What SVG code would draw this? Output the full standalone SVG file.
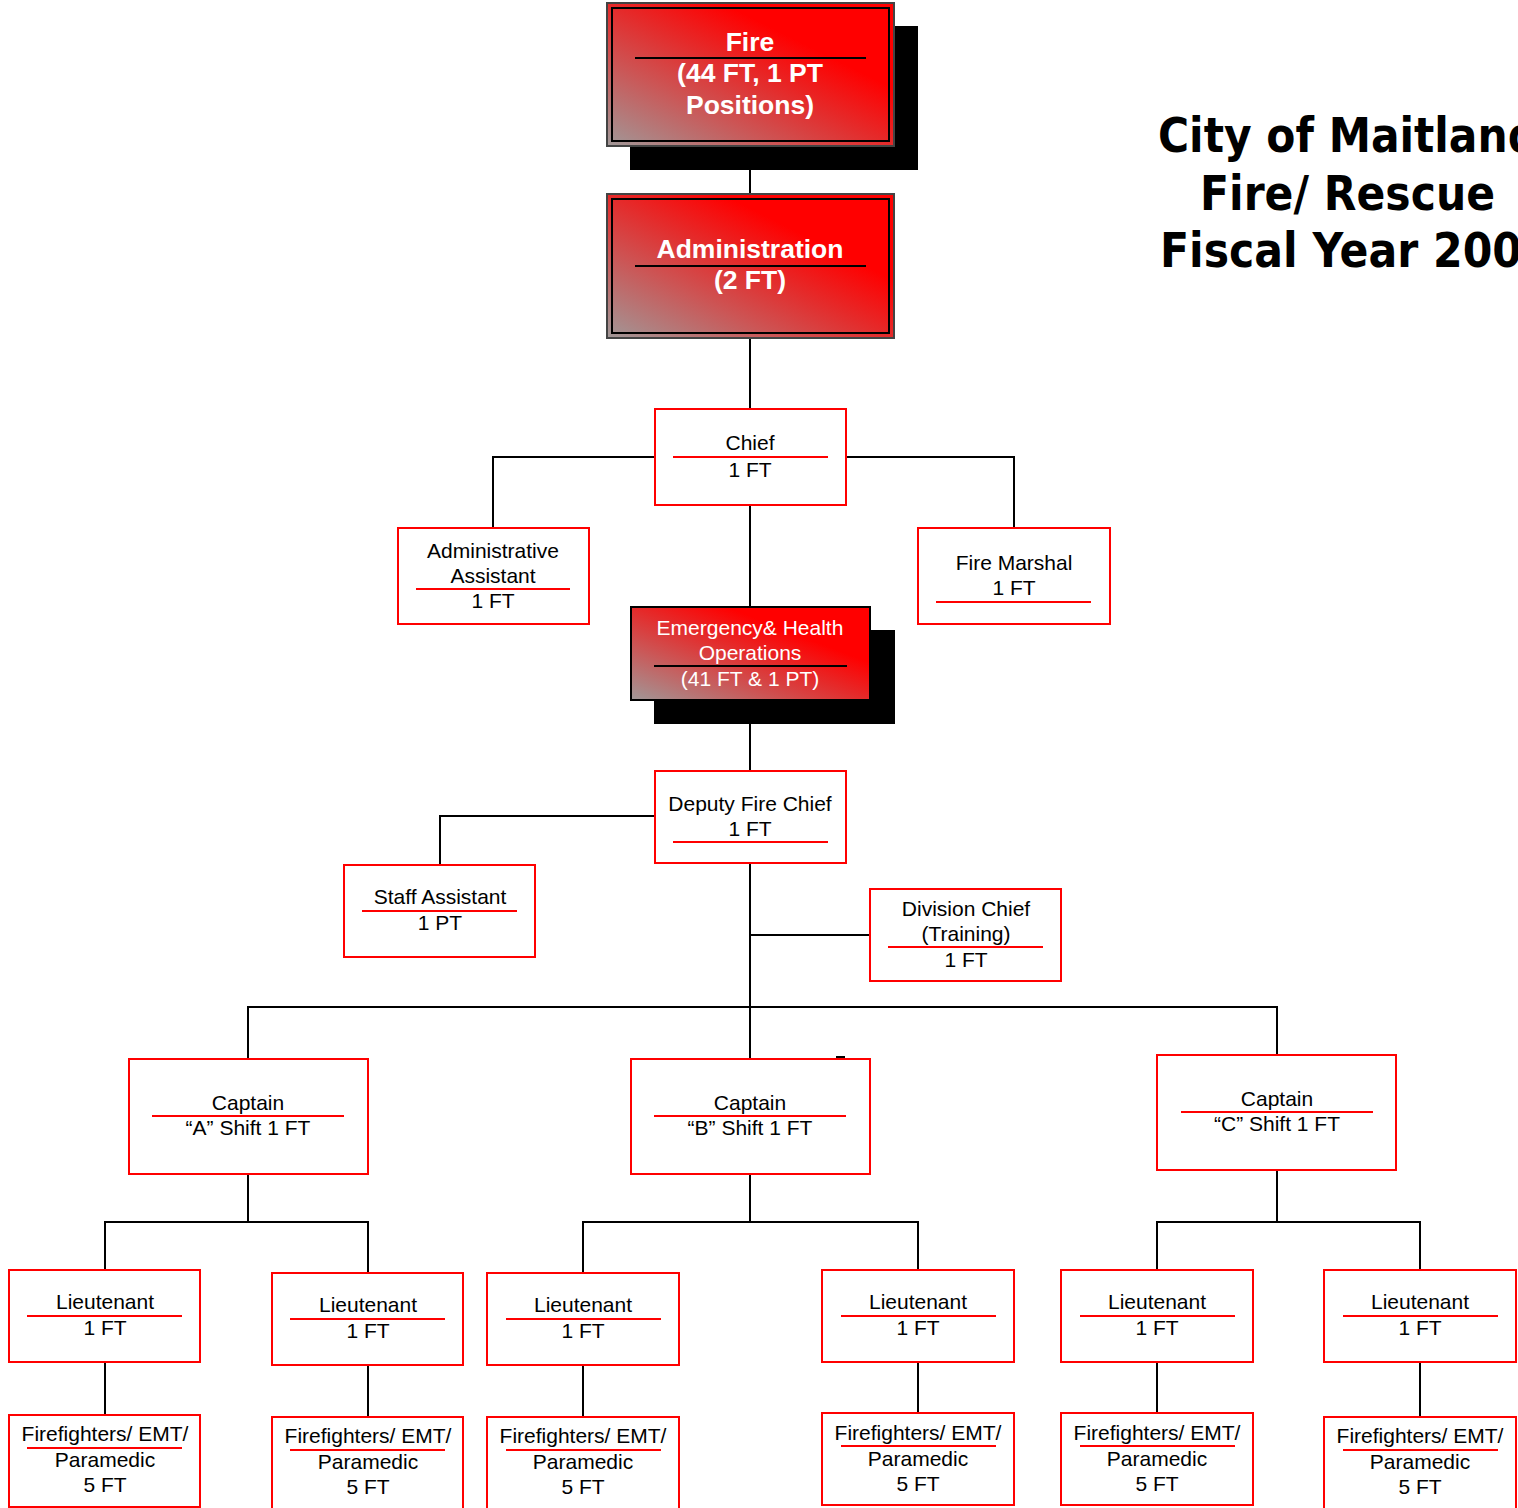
<svg xmlns="http://www.w3.org/2000/svg" width="1518" height="1508" viewBox="0 0 1518 1508">
<defs>
<linearGradient id="rg" x1="0" y1="1" x2="1" y2="0">
<stop offset="0" stop-color="#a09898"/>
<stop offset="0.3" stop-color="#cc5555"/>
<stop offset="0.5" stop-color="#e52a2a"/>
<stop offset="0.7" stop-color="#ff0000"/>
<stop offset="1" stop-color="#ff0000"/>
</linearGradient>
</defs>
<style>
.box{fill:#fff;stroke:#f00;stroke-width:2}
.rl{stroke:#f00;stroke-width:2}
.bl{stroke:#000;stroke-width:2}
.t{font-family:"Liberation Sans",Arial,sans-serif;font-size:21px;fill:#000;text-anchor:middle}
.w{fill:#fff}
.wb{font-family:"Liberation Sans",Arial,sans-serif;font-size:26.5px;font-weight:bold;fill:#fff;text-anchor:middle}
.c{fill:none;stroke:#000;stroke-width:2}
.title{font-family:"Comic Sans MS","DejaVu Sans",sans-serif;font-size:48px;font-weight:bold;fill:#000}
</style>
<rect width="1518" height="1508" fill="#fff"/>
<g id="connectors">
<path class="c" d="M750,146V194M750,338V409M750,505V607M750,724V771M750,863V1059"/>
<path class="c" d="M655,457H493V528M846,457H1014V528"/>
<path class="c" d="M655,816H440V865"/>
<path class="c" d="M750,935H870"/>
<path class="c" d="M248,1059V1007H1277V1055"/>
<path class="c" d="M836,1057H845"/>
<path class="c" d="M248,1174V1222M105,1270V1222H368V1273"/>
<path class="c" d="M750,1174V1222M583,1273V1222H918V1270"/>
<path class="c" d="M1277,1170V1222M1157,1270V1222H1420V1270"/>
<path class="c" d="M105,1362V1415M368,1365V1417M583,1365V1417M918,1362V1413M1157,1362V1413M1420,1362V1417"/>
</g>
<g id="fire">
<rect x="630" y="26" width="288" height="144" fill="#000"/>
<rect x="607" y="3" width="287" height="143" fill="url(#rg)" stroke="#444" stroke-width="2"/>
<rect x="612" y="8" width="277" height="133" fill="none" stroke="#000" stroke-width="2"/>
<text class="wb" x="750" y="51">Fire</text>
<line class="bl" x1="635" y1="58" x2="866" y2="58"/>
<text class="wb" x="750" y="82">(44 FT, 1 PT</text>
<text class="wb" x="750" y="114">Positions)</text>
</g>
<g id="administration">
<rect x="607" y="194" width="287" height="144" fill="url(#rg)" stroke="#444" stroke-width="2"/>
<rect x="612" y="199" width="277" height="134" fill="none" stroke="#000" stroke-width="2"/>
<text class="wb" x="750" y="258">Administration</text>
<line class="bl" x1="635" y1="266" x2="866" y2="266"/>
<text class="wb" x="750" y="289">(2 FT)</text>
</g>
<g id="chief">
<rect class="box" x="655" y="409" width="191" height="96"/>
<text class="t" x="750" y="450">Chief</text>
<line class="rl" x1="673" y1="457" x2="828" y2="457"/>
<text class="t" x="750" y="477">1 FT</text>
</g>
<g id="admin-assistant">
<rect class="box" x="398" y="528" width="191" height="96"/>
<text class="t" x="493" y="558">Administrative</text>
<text class="t" x="493" y="583">Assistant</text>
<line class="rl" x1="416" y1="589" x2="570" y2="589"/>
<text class="t" x="493" y="608">1 FT</text>
</g>
<g id="fire-marshal">
<rect class="box" x="918" y="528" width="192" height="96"/>
<text class="t" x="1014" y="570">Fire Marshal</text>
<text class="t" x="1014" y="595">1 FT</text>
<line class="rl" x1="936" y1="602" x2="1091" y2="602"/>
</g>
<g id="emergency">
<rect x="654" y="630" width="241" height="94" fill="#000"/>
<rect x="631" y="607" width="239" height="93" fill="url(#rg)" stroke="#000" stroke-width="2"/>
<text class="t w" x="750" y="635">Emergency&amp; Health</text>
<text class="t w" x="750" y="660">Operations</text>
<line class="bl" x1="654" y1="666" x2="847" y2="666"/>
<text class="t w" x="750" y="686">(41 FT &amp; 1 PT)</text>
</g>
<g id="deputy-fire-chief">
<rect class="box" x="655" y="771" width="191" height="92"/>
<text class="t" x="750" y="811">Deputy Fire Chief</text>
<text class="t" x="750" y="836">1 FT</text>
<line class="rl" x1="673" y1="842" x2="828" y2="842"/>
</g>
<g id="staff-assistant">
<rect class="box" x="344" y="865" width="191" height="92"/>
<text class="t" x="440" y="904">Staff Assistant</text>
<line class="rl" x1="362" y1="911" x2="517" y2="911"/>
<text class="t" x="440" y="930">1 PT</text>
</g>
<g id="division-chief">
<rect class="box" x="870" y="889" width="191" height="92"/>
<text class="t" x="966" y="916">Division Chief</text>
<text class="t" x="966" y="941">(Training)</text>
<line class="rl" x1="888" y1="947" x2="1043" y2="947"/>
<text class="t" x="966" y="967">1 FT</text>
</g>
<g id="captain-a">
<rect class="box" x="129" y="1059" width="239" height="115"/>
<text class="t" x="248" y="1110">Captain</text>
<line class="rl" x1="152" y1="1116" x2="344" y2="1116"/>
<text class="t" x="248" y="1135">“A” Shift 1 FT</text>
</g>
<g id="captain-b">
<rect class="box" x="631" y="1059" width="239" height="115"/>
<text class="t" x="750" y="1110">Captain</text>
<line class="rl" x1="654" y1="1116" x2="846" y2="1116"/>
<text class="t" x="750" y="1135">“B” Shift 1 FT</text>
</g>
<g id="captain-c">
<rect class="box" x="1157" y="1055" width="239" height="115"/>
<text class="t" x="1277" y="1106">Captain</text>
<line class="rl" x1="1181" y1="1112" x2="1373" y2="1112"/>
<text class="t" x="1277" y="1131">“C” Shift 1 FT</text>
</g>
<g id="lieutenant-1">
<rect class="box" x="9" y="1270" width="191" height="92"/>
<text class="t" x="105" y="1309">Lieutenant</text>
<line class="rl" x1="27" y1="1316" x2="182" y2="1316"/>
<text class="t" x="105" y="1335">1 FT</text>
</g>
<g id="lieutenant-2">
<rect class="box" x="272" y="1273" width="191" height="92"/>
<text class="t" x="368" y="1312">Lieutenant</text>
<line class="rl" x1="290" y1="1319" x2="445" y2="1319"/>
<text class="t" x="368" y="1338">1 FT</text>
</g>
<g id="lieutenant-3">
<rect class="box" x="487" y="1273" width="192" height="92"/>
<text class="t" x="583" y="1312">Lieutenant</text>
<line class="rl" x1="506" y1="1319" x2="661" y2="1319"/>
<text class="t" x="583" y="1338">1 FT</text>
</g>
<g id="lieutenant-4">
<rect class="box" x="822" y="1270" width="192" height="92"/>
<text class="t" x="918" y="1309">Lieutenant</text>
<line class="rl" x1="841" y1="1316" x2="996" y2="1316"/>
<text class="t" x="918" y="1335">1 FT</text>
</g>
<g id="lieutenant-5">
<rect class="box" x="1061" y="1270" width="192" height="92"/>
<text class="t" x="1157" y="1309">Lieutenant</text>
<line class="rl" x1="1080" y1="1316" x2="1235" y2="1316"/>
<text class="t" x="1157" y="1335">1 FT</text>
</g>
<g id="lieutenant-6">
<rect class="box" x="1324" y="1270" width="192" height="92"/>
<text class="t" x="1420" y="1309">Lieutenant</text>
<line class="rl" x1="1343" y1="1316" x2="1498" y2="1316"/>
<text class="t" x="1420" y="1335">1 FT</text>
</g>
<g id="firefighters-1">
<rect class="box" x="9" y="1415" width="191" height="92"/>
<text class="t" x="105" y="1441">Firefighters/ EMT/</text>
<line class="rl" x1="27" y1="1448" x2="182" y2="1448"/>
<text class="t" x="105" y="1467">Paramedic</text>
<text class="t" x="105" y="1492">5 FT</text>
</g>
<g id="firefighters-2">
<rect class="box" x="272" y="1417" width="191" height="92"/>
<text class="t" x="368" y="1443">Firefighters/ EMT/</text>
<line class="rl" x1="290" y1="1450" x2="445" y2="1450"/>
<text class="t" x="368" y="1469">Paramedic</text>
<text class="t" x="368" y="1494">5 FT</text>
</g>
<g id="firefighters-3">
<rect class="box" x="487" y="1417" width="192" height="92"/>
<text class="t" x="583" y="1443">Firefighters/ EMT/</text>
<line class="rl" x1="506" y1="1450" x2="661" y2="1450"/>
<text class="t" x="583" y="1469">Paramedic</text>
<text class="t" x="583" y="1494">5 FT</text>
</g>
<g id="firefighters-4">
<rect class="box" x="822" y="1413" width="192" height="92"/>
<text class="t" x="918" y="1440">Firefighters/ EMT/</text>
<line class="rl" x1="841" y1="1446" x2="996" y2="1446"/>
<text class="t" x="918" y="1466">Paramedic</text>
<text class="t" x="918" y="1491">5 FT</text>
</g>
<g id="firefighters-5">
<rect class="box" x="1061" y="1413" width="192" height="92"/>
<text class="t" x="1157" y="1440">Firefighters/ EMT/</text>
<line class="rl" x1="1080" y1="1446" x2="1235" y2="1446"/>
<text class="t" x="1157" y="1466">Paramedic</text>
<text class="t" x="1157" y="1491">5 FT</text>
</g>
<g id="firefighters-6">
<rect class="box" x="1324" y="1417" width="192" height="92"/>
<text class="t" x="1420" y="1443">Firefighters/ EMT/</text>
<line class="rl" x1="1343" y1="1450" x2="1498" y2="1450"/>
<text class="t" x="1420" y="1469">Paramedic</text>
<text class="t" x="1420" y="1494">5 FT</text>
</g>
<g id="title">
<text class="title" x="1158" y="152" textLength="380" lengthAdjust="spacingAndGlyphs">City of Maitland</text>
<text class="title" x="1200" y="210" textLength="295" lengthAdjust="spacingAndGlyphs">Fire/ Rescue</text>
<text class="title" x="1160" y="267" textLength="362" lengthAdjust="spacingAndGlyphs">Fiscal Year 200</text>
</g>
</svg>
